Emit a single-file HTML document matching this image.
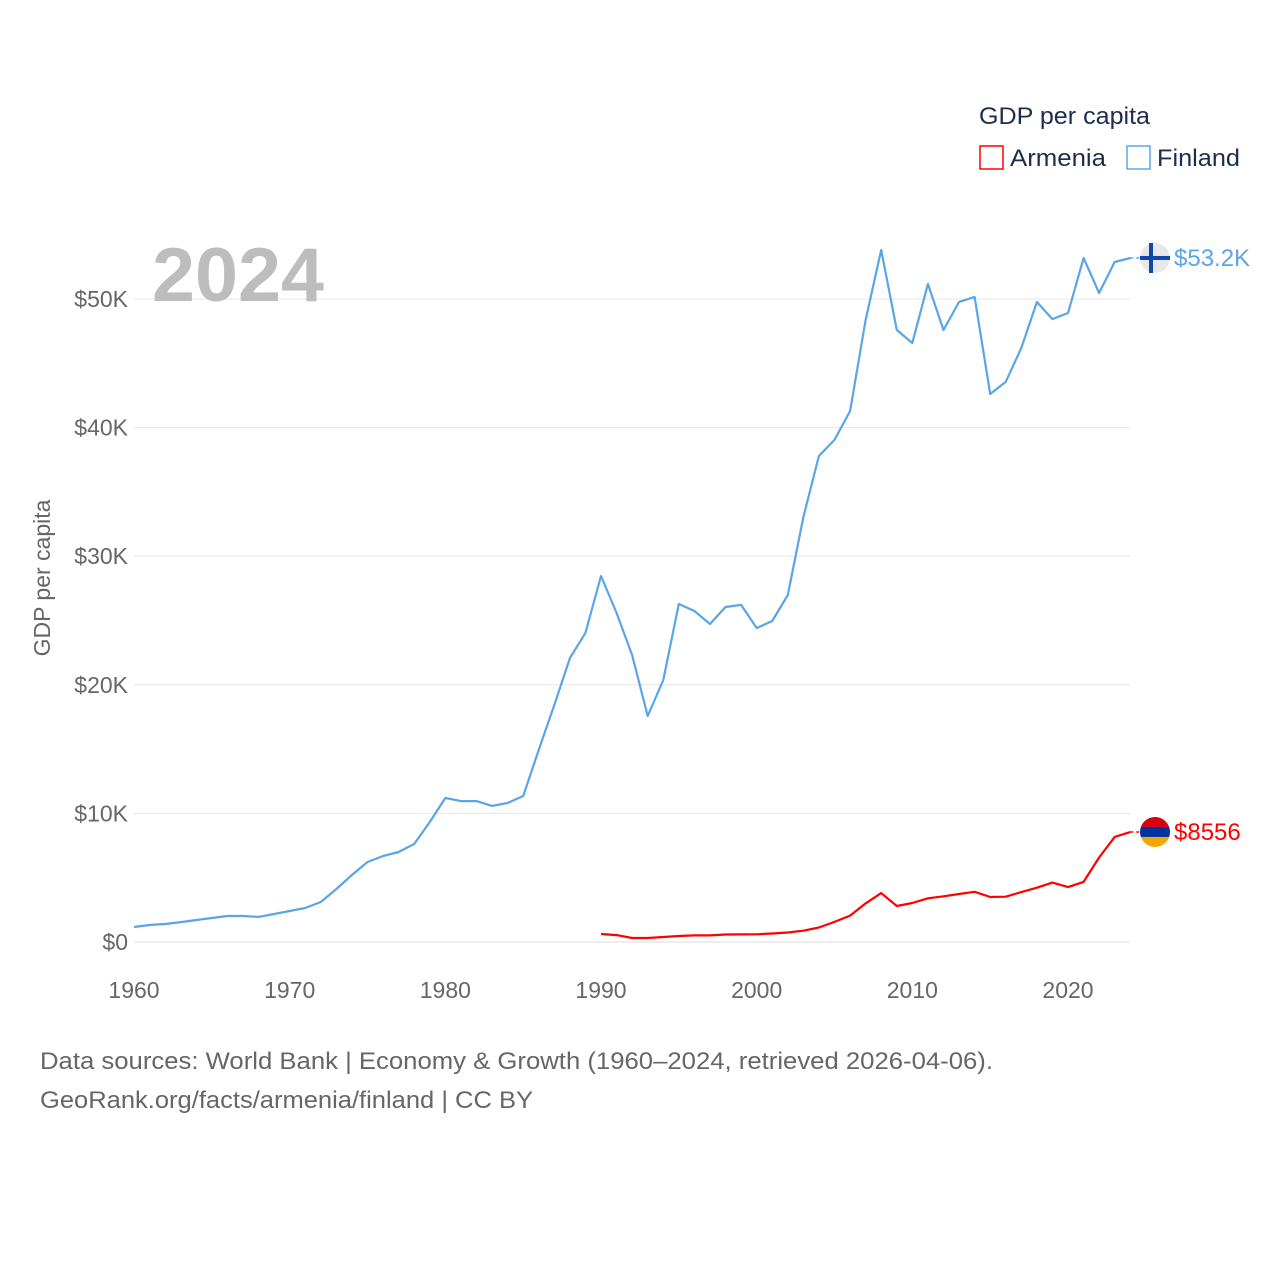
<!DOCTYPE html>
<html><head><meta charset="utf-8">
<style>
body{margin:0;background:#fff;font-family:"Liberation Sans",sans-serif;}
svg text{font-family:"Liberation Sans",sans-serif;}
</style></head>
<body>
<svg id="chart" width="1280" height="1280" viewBox="0 0 1280 1280">
<g id="grid"></g>
<g id="yticks"></g>
<g id="xticks"></g>
<text x="152" y="301" font-size="76" font-weight="bold" fill="#bdbdbd" textLength="172" lengthAdjust="spacingAndGlyphs">2024</text>
<text transform="translate(50,578) rotate(-90)" text-anchor="middle" font-size="23" fill="#666">GDP per capita</text>
<g id="series"></g>
<g>
<text x="979" y="124" font-size="24" fill="#1f2d4d" textLength="171" lengthAdjust="spacingAndGlyphs">GDP per capita</text>
<g>
<rect x="980" y="146" width="23" height="23" fill="none" stroke="#ff0000" stroke-width="1.5"/>
<text x="1010" y="166" font-size="24" fill="#1f2d4d" textLength="96" lengthAdjust="spacingAndGlyphs">Armenia</text></g>
<g>
<rect x="1127" y="146" width="23" height="23" fill="none" stroke="#5aa5e8" stroke-width="1.5"/>
<text x="1157" y="166" font-size="24" fill="#1f2d4d" textLength="83" lengthAdjust="spacingAndGlyphs">Finland</text></g>
</g>
<text x="40" y="1069" font-size="24" fill="#666" textLength="953" lengthAdjust="spacingAndGlyphs">Data sources: World Bank | Economy &amp; Growth (1960–2024, retrieved 2026-04-06).</text>
<text x="40" y="1108" font-size="24" fill="#666" textLength="493" lengthAdjust="spacingAndGlyphs">GeoRank.org/facts/armenia/finland | CC BY</text>
</svg>
<script>
const finlandYears0 = 1960;
const finlandValues = [1170,1320,1400,1550,1710,1870,2020,2020,1950,2180,2410,2640,3110,4120,5210,6220,6690,7000,7620,9330,11200,10960,10960,10580,10810,11350,14930,18430,22080,24030,28460,25580,22320,17570,20370,26280,25740,24730,26050,26210,24420,24960,26980,33050,37790,39040,41290,48370,53810,47590,46580,51170,47590,49770,50160,42610,43550,46190,49770,48440,48910,53190,50470,52880,53190];
const armeniaYears0 = 1990;
const armeniaValues = [620,540,310,310,390,470,510,510,580,590,600,660,740,880,1130,1560,2050,3000,3800,2800,3030,3400,3550,3730,3900,3500,3520,3880,4220,4620,4270,4670,6570,8170,8556];
const yTicks = [0,10000,20000,30000,40000,50000];
const yTickLabels = ["$0","$10K","$20K","$30K","$40K","$50K"];
const xTicks = [1960,1970,1980,1990,2000,2010,2020];
const NS="http://www.w3.org/2000/svg";
const x = yr => 134 + (yr-1960)*(934/60);
const y = v => 942 - v*0.01286;
function mk(tag, attrs, parent){const e=document.createElementNS(NS,tag);for(const k in attrs)e.setAttribute(k,attrs[k]);parent.appendChild(e);return e;}
const grid=document.getElementById('grid'), yt=document.getElementById('yticks'), xt=document.getElementById('xticks'), ser=document.getElementById('series');
yTicks.forEach((t,i)=>{
  const l=mk('line',{x1:134,x2:1130,y1:y(t),y2:y(t),stroke:i==0?'#dddddd':'#e6e6e6','stroke-width':1},grid);
  
  
  const tx=mk('text',{x:128,y:y(t)+8,'text-anchor':'end','font-size':23,fill:'#666'},yt);
  tx.textContent=yTickLabels[i];
  
  
});
xTicks.forEach(t=>{
  const tx=mk('text',{x:x(t),y:998,'text-anchor':'middle','font-size':23,fill:'#666'},xt);
  tx.textContent=t;
  
  
});
function line(vals,y0,color,name){
  const pts=vals.map((v,i)=>x(y0+i).toFixed(1)+','+y(v).toFixed(1)).join(' ');
  const p=mk('polyline',{points:pts,fill:'none',stroke:color,'stroke-width':2.2,'stroke-linejoin':'round'},ser);
  
  
  const lv=vals[vals.length-1], lx=x(y0+vals.length-1), ly=y(lv);
  const d=mk('line',{x1:lx,x2:1141,y1:ly,y2:ly,stroke:color,'stroke-width':1.5,'stroke-dasharray':'3,3'},ser);
  
  
  return ly;
}
const fy=line(finlandValues,finlandYears0,'#5aa5e8','finland-line');
const ay=line(armeniaValues,armeniaYears0,'#ff0000','armenia-line');
const ff=mk('g',{},ser);


mk('circle',{cx:1155,cy:fy,r:15,fill:'#e8e8e8'},ff);
mk('rect',{x:1140,y:fy-2,width:30,height:4,fill:'#0f47af'},ff);
mk('rect',{x:1149,y:fy-15,width:4,height:30,fill:'#0f47af'},ff);
const fl=mk('text',{x:1174,y:fy+8,'font-size':24,fill:'#5aa5e8'},ser);
fl.textContent='$53.2K';


const af=mk('g',{},ser);


const cp=mk('clipPath',{id:'ac'},af);mk('circle',{cx:1155,cy:ay,r:15},cp);
mk('rect',{x:1140,y:ay-15,width:30,height:10,fill:'#d90012','clip-path':'url(#ac)'},af);
mk('rect',{x:1140,y:ay-5,width:30,height:10,fill:'#0033a0','clip-path':'url(#ac)'},af);
mk('rect',{x:1140,y:ay+5,width:30,height:10,fill:'#f2a800','clip-path':'url(#ac)'},af);
const al=mk('text',{x:1174,y:ay+8,'font-size':24,fill:'#ff0000'},ser);
al.textContent='$8556';


</script>
</body></html>
